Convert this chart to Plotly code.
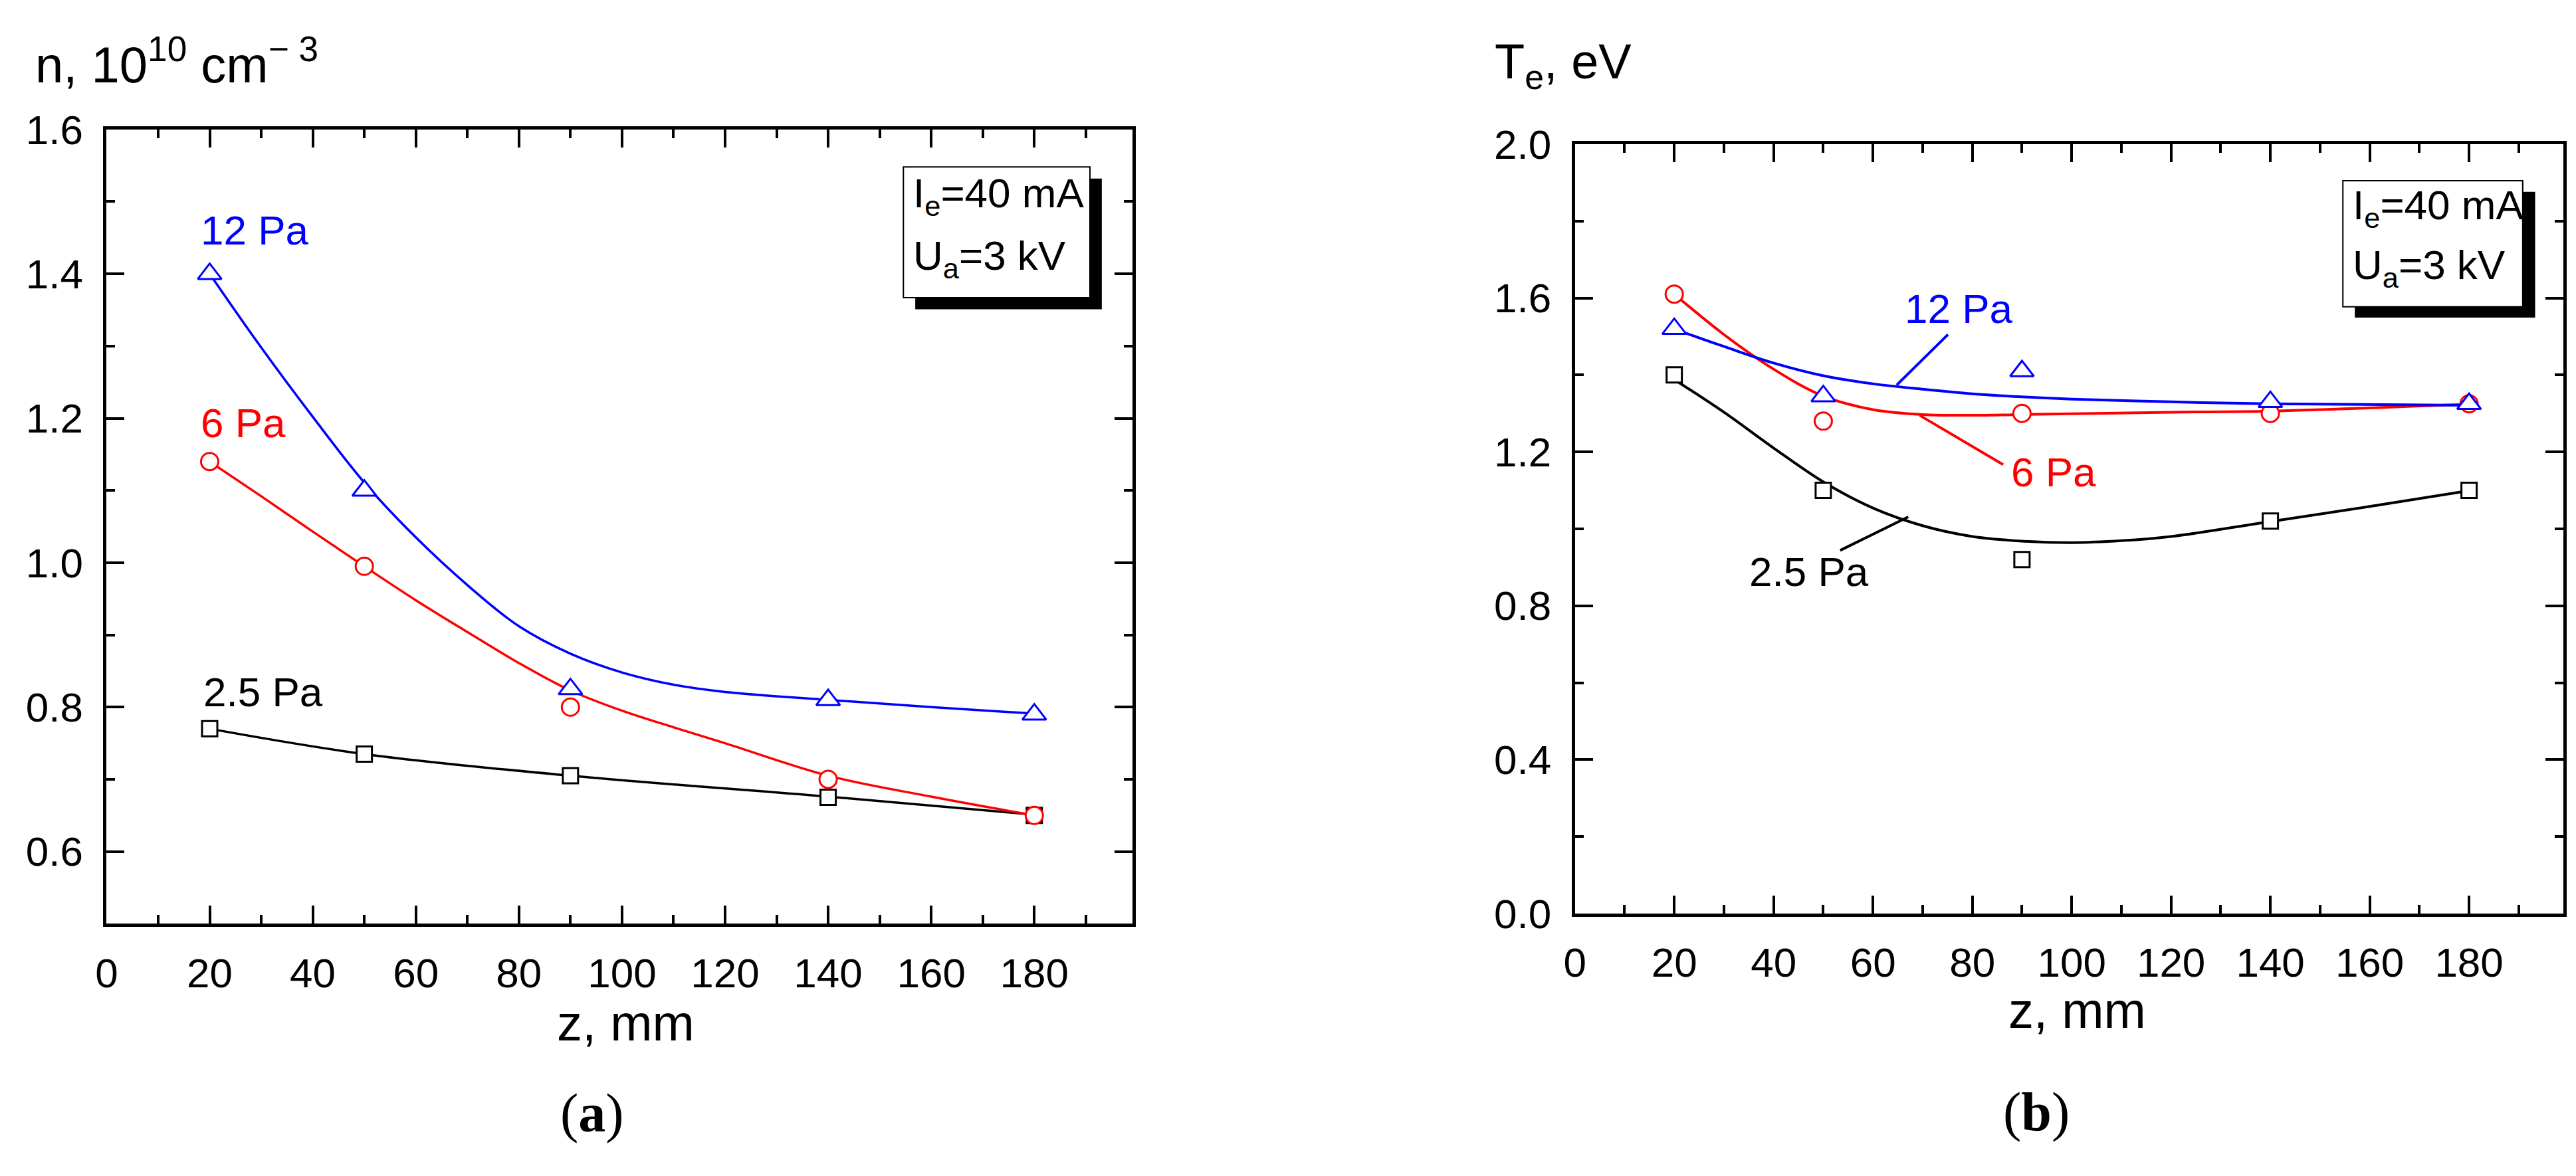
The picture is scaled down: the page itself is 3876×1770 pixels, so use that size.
import plotly.graph_objects as go

FONT = "Liberation Sans, Arial, sans-serif"
SERIF = "Liberation Serif, Times New Roman, serif"
BLUE = "#0000ff"
RED = "#ff0000"
BLACK = "#000000"

z = [20, 50, 90, 140, 180]

# (a) electron density, 10^10 cm^-3
n_12pa = [1.40, 1.10, 0.825, 0.81, 0.79]
n_6pa = [1.14, 0.995, 0.80, 0.70, 0.65]
n_2_5pa = [0.77, 0.735, 0.705, 0.675, 0.65]

# smoothed curves drawn through the points in (a)
n_fit_z_12pa = [20, 30, 40, 50, 60, 70, 80, 90, 100, 110, 120, 140, 160, 180]
n_fit_12pa = [1.40, 1.298, 1.202, 1.111, 1.035, 0.969, 0.912, 0.874, 0.848, 0.831, 0.821, 0.810, 0.800, 0.791]
n_fit_z_6pa = [20, 30, 40, 50, 60, 70, 80, 90, 100, 110, 120, 140, 160, 180]
n_fit_6pa = [1.14, 1.092, 1.043, 0.995, 0.948, 0.904, 0.861, 0.823, 0.795, 0.772, 0.750, 0.705, 0.676, 0.65]
n_fit_z_2_5pa = [20, 50, 90, 140, 180]
n_fit_2_5pa = [0.77, 0.735, 0.705, 0.676, 0.651]

# (b) electron temperature, eV
te_12pa = [1.52, 1.345, 1.41, 1.33, 1.325]
te_6pa = [1.61, 1.28, 1.30, 1.30, 1.325]
te_2_5pa = [1.40, 1.10, 0.92, 1.02, 1.10]

# smoothed curves drawn through the points in (b)
te_fit_z_12pa = [20, 30, 40, 50, 60, 70, 80, 90, 100, 120, 140, 180]
te_fit_12pa = [1.519, 1.474, 1.431, 1.398, 1.377, 1.363, 1.351, 1.343, 1.337, 1.330, 1.325, 1.321]
te_fit_z_6pa = [20, 30, 40, 50, 60, 70, 80, 90, 120, 140, 180]
te_fit_6pa = [1.61, 1.505, 1.415, 1.345, 1.310, 1.297, 1.295, 1.297, 1.303, 1.306, 1.324]
te_fit_z_2_5pa = [20, 30, 40, 50, 60, 70, 80, 90, 100, 110, 120, 140, 160, 180]
te_fit_2_5pa = [1.388, 1.303, 1.210, 1.122, 1.054, 1.008, 0.980, 0.968, 0.964, 0.969, 0.980, 1.019, 1.058, 1.099]

fig = go.Figure()


def add_panel(xa, ya, fits, points, lw):
    for fx, fy, color in fits:
        fig.add_trace(go.Scatter(x=fx, y=fy, mode="lines", xaxis=xa, yaxis=ya,
                                 line=dict(color=color, width=lw, shape="spline", smoothing=1),
                                 showlegend=False, hoverinfo="skip"))
    for py, color, symbol, size in points:
        fig.add_trace(go.Scatter(x=z, y=py, mode="markers", xaxis=xa, yaxis=ya,
                                 marker=dict(symbol=symbol, size=size, color="white",
                                             line=dict(color=color, width=3)),
                                 showlegend=False))


add_panel("x", "y",
          [(n_fit_z_2_5pa, n_fit_2_5pa, BLACK), (n_fit_z_6pa, n_fit_6pa, RED),
           (n_fit_z_12pa, n_fit_12pa, BLUE)],
          [(n_2_5pa, BLACK, "square", 23), (n_6pa, RED, "circle", 26),
           (n_12pa, BLUE, "triangle-up", 31)], 3.5)
add_panel("x2", "y2",
          [(te_fit_z_2_5pa, te_fit_2_5pa, BLACK), (te_fit_z_6pa, te_fit_6pa, RED),
           (te_fit_z_12pa, te_fit_12pa, BLUE)],
          [(te_2_5pa, BLACK, "square", 23), (te_6pa, RED, "circle", 26),
           (te_12pa, BLUE, "triangle-up", 31)], 4)

axis_style = dict(
    showline=True, linewidth=5, linecolor="black", mirror="ticks",
    ticks="inside", ticklen=27, tickwidth=4, tickcolor="black",
    showgrid=False, zeroline=False,
    tickfont=dict(family=FONT, size=62, color="black"),
    minor=dict(ticks="inside", ticklen=13, tickwidth=4, tickcolor="black", showgrid=False),
)

fig.update_layout(
    width=3876, height=1770,
    margin=dict(l=0, r=0, t=0, b=0),
    paper_bgcolor="white", plot_bgcolor="white",
    xaxis=dict(axis_style, domain=[136 / 3876, 1686 / 3876], range=[0, 199],
               dtick=20, tick0=0, minor_dtick=10, anchor="y", ticklabelstandoff=16),
    yaxis=dict(axis_style, domain=[1 - 1403 / 1770, 1 - 159 / 1770], range=[0.5, 1.6],
               dtick=0.2, tick0=0, minor_dtick=0.1, tickformat=".1f", anchor="x",
               ticklabelstandoff=18),
    xaxis2=dict(axis_style, domain=[2355 / 3876, 3849 / 3876], range=[0, 199],
                dtick=20, tick0=0, minor_dtick=10, anchor="y2", ticklabelstandoff=16),
    yaxis2=dict(axis_style, domain=[1 - 1387 / 1770, 1 - 182 / 1770], range=[0, 2.0],
                dtick=0.4, tick0=0, minor_dtick=0.2, tickformat=".1f", anchor="x2",
                ticklabelstandoff=18),
)

annotations = []


def label(text, x, y, color, xref, yref, size=62, family=FONT, xanchor="left"):
    annotations.append(dict(text=text, x=x, y=y, xref=xref, yref=yref, showarrow=False,
                            xanchor=xanchor, yanchor="middle", borderpad=0,
                            font=dict(family=family, size=size, color=color)))


# series labels
label("12 Pa", 18.1, 1.460, BLUE, "x", "y")
label("6 Pa", 18.1, 1.194, RED, "x", "y")
label("2.5 Pa", 18.6, 0.821, BLACK, "x", "y")
label("12 Pa", 66.3, 1.573, BLUE, "x2", "y2")
label("6 Pa", 87.7, 1.147, RED, "x2", "y2")
label("2.5 Pa", 35.0, 0.888, BLACK, "x2", "y2")

# conditions boxes
label("I<sub>e</sub>=40 mA", 156.4, 1.508, BLACK, "x", "y")
label("U<sub>a</sub>=3 kV", 156.4, 1.421, BLACK, "x", "y")
label("I<sub>e</sub>=40 mA", 156.5, 1.834, BLACK, "x2", "y2")
label("U<sub>a</sub>=3 kV", 156.5, 1.678, BLACK, "x2", "y2")

# axis titles
label("n, 10<sup>10</sup> cm<sup>− 3</sup>", 27 / 3876, 1 - 52 / 1770, BLACK, "paper", "paper", size=76)
label("T<sub>e</sub>, eV", 2233 / 3876, 1 - 58 / 1770, BLACK, "paper", "paper", size=74)
label("z, mm", 921 / 3876, 1 - 1558 / 1770, BLACK, "paper", "paper", size=76, xanchor="center")
label("z, mm", 3114 / 3876, 1 - 1538 / 1770, BLACK, "paper", "paper", size=76, xanchor="center")

# panel captions
label("(<b>a</b>)", 870 / 3876, 1 - 1700 / 1770, BLACK, "paper", "paper", size=82,
      family=SERIF, xanchor="center")
label("(<b>b</b>)", 3052 / 3876, 1 - 1698 / 1770, BLACK, "paper", "paper", size=82,
      family=SERIF, xanchor="center")

fig.update_layout(annotations=annotations)

shapes = []
# shadowed boxes around the conditions
for xr, yr, box, shadow in [
    ("x", "y", (154.6, 1.367, 190.8, 1.548), (156.9, 1.351, 193.1, 1.532)),
    ("x2", "y2", (154.6, 1.577, 190.8, 1.905), (157.0, 1.549, 193.3, 1.876)),
]:
    shapes.append(dict(type="rect", xref=xr, yref=yr, x0=shadow[0], y0=shadow[1],
                       x1=shadow[2], y1=shadow[3], fillcolor="black", line=dict(width=0)))
    shapes.append(dict(type="rect", xref=xr, yref=yr, x0=box[0], y0=box[1],
                       x1=box[2], y1=box[3], fillcolor="white",
                       line=dict(color="black", width=2)))

# pointer lines from labels to curves in (b)
for x0, y0, x1, y1, color in [
    (75.1, 1.505, 64.8, 1.374, BLUE),
    (86.2, 1.167, 69.4, 1.295, RED),
    (53.4, 0.944, 67.1, 1.031, BLACK),
]:
    shapes.append(dict(type="line", xref="x2", yref="y2", x0=x0, y0=y0, x1=x1, y1=y1,
                       line=dict(color=color, width=4)))

fig.update_layout(shapes=shapes)

fig.write_html("out.html")
